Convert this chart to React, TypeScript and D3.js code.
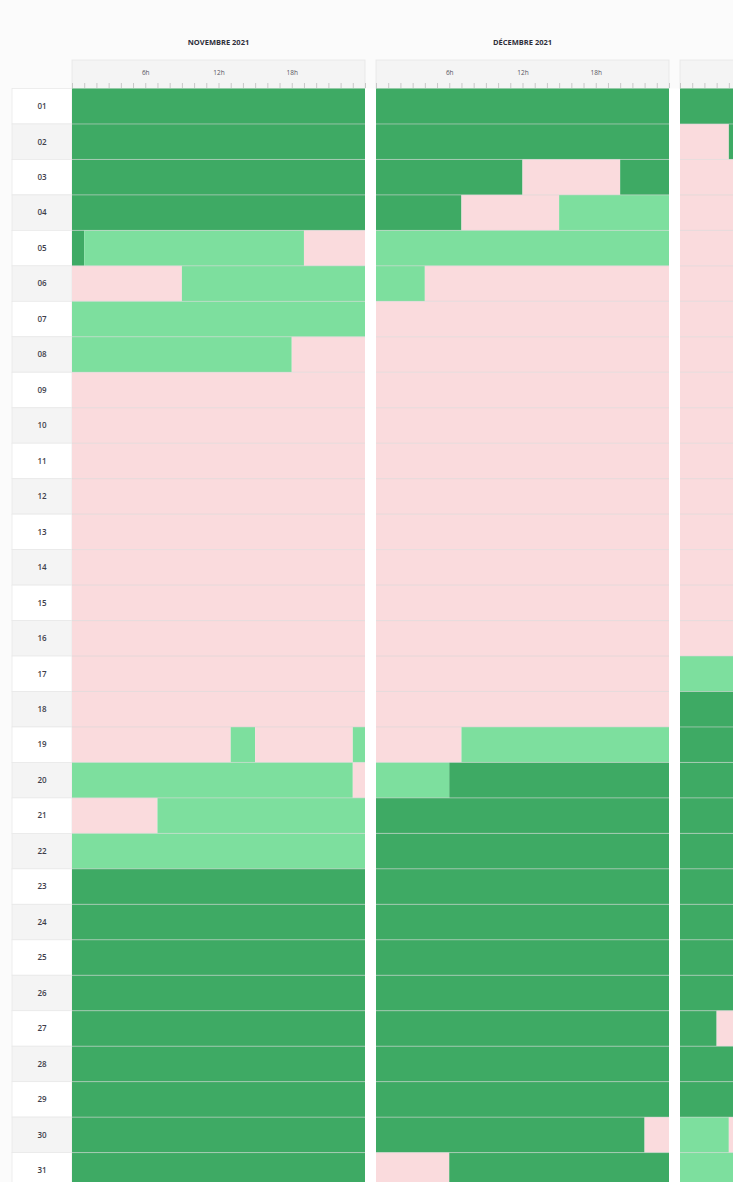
import React, { useEffect, useRef } from "react";
import * as d3 from "d3";

type Segment = [number, number, string];

const MOIS = ["NOVEMBRE 2021", "DÉCEMBRE 2021", "JANVIER 2022"];
const JOURS = [
  "01", "02", "03", "04", "05", "06", "07", "08", "09", "10",
  "11", "12", "13", "14", "15", "16", "17", "18", "19", "20",
  "21", "22", "23", "24", "25", "26", "27", "28", "29", "30", "31",
];
const HEURES_LABELS = [6, 12, 18];
// F = fort (vert foncé), M = moyen (vert clair), B = bas (rose)
const COULEURS: Record<string, string> = { F: "#3eaa64", M: "#7ddf9e", B: "#fadbdd" };

const NOVEMBRE: Segment[][] = [
  [[0, 24, "F"]],
  [[0, 24, "F"]],
  [[0, 24, "F"]],
  [[0, 24, "F"]],
  [[0, 1, "F"], [1, 19, "M"], [19, 24, "B"]],
  [[0, 9, "B"], [9, 24, "M"]],
  [[0, 24, "M"]],
  [[0, 18, "M"], [18, 24, "B"]],
  [[0, 24, "B"]],
  [[0, 24, "B"]],
  [[0, 24, "B"]],
  [[0, 24, "B"]],
  [[0, 24, "B"]],
  [[0, 24, "B"]],
  [[0, 24, "B"]],
  [[0, 24, "B"]],
  [[0, 24, "B"]],
  [[0, 24, "B"]],
  [[0, 13, "B"], [13, 15, "M"], [15, 23, "B"], [23, 24, "M"]],
  [[0, 23, "M"], [23, 24, "B"]],
  [[0, 7, "B"], [7, 24, "M"]],
  [[0, 24, "M"]],
  [[0, 24, "F"]],
  [[0, 24, "F"]],
  [[0, 24, "F"]],
  [[0, 24, "F"]],
  [[0, 24, "F"]],
  [[0, 24, "F"]],
  [[0, 24, "F"]],
  [[0, 24, "F"]],
  [[0, 24, "F"]],
];

const DECEMBRE: Segment[][] = [
  [[0, 24, "F"]],
  [[0, 24, "F"]],
  [[0, 12, "F"], [12, 20, "B"], [20, 24, "F"]],
  [[0, 7, "F"], [7, 15, "B"], [15, 24, "M"]],
  [[0, 24, "M"]],
  [[0, 4, "M"], [4, 24, "B"]],
  [[0, 24, "B"]],
  [[0, 24, "B"]],
  [[0, 24, "B"]],
  [[0, 24, "B"]],
  [[0, 24, "B"]],
  [[0, 24, "B"]],
  [[0, 24, "B"]],
  [[0, 24, "B"]],
  [[0, 24, "B"]],
  [[0, 24, "B"]],
  [[0, 24, "B"]],
  [[0, 24, "B"]],
  [[0, 7, "B"], [7, 24, "M"]],
  [[0, 6, "M"], [6, 24, "F"]],
  [[0, 24, "F"]],
  [[0, 24, "F"]],
  [[0, 24, "F"]],
  [[0, 24, "F"]],
  [[0, 24, "F"]],
  [[0, 24, "F"]],
  [[0, 24, "F"]],
  [[0, 24, "F"]],
  [[0, 24, "F"]],
  [[0, 22, "F"], [22, 24, "B"]],
  [[0, 6, "B"], [6, 24, "F"]],
];

const JANVIER: Segment[][] = [
  [[0, 24, "F"]],
  [[0, 4, "B"], [4, 24, "F"]],
  [[0, 24, "B"]],
  [[0, 24, "B"]],
  [[0, 24, "B"]],
  [[0, 24, "B"]],
  [[0, 24, "B"]],
  [[0, 24, "B"]],
  [[0, 24, "B"]],
  [[0, 24, "B"]],
  [[0, 24, "B"]],
  [[0, 24, "B"]],
  [[0, 24, "B"]],
  [[0, 24, "B"]],
  [[0, 24, "B"]],
  [[0, 24, "B"]],
  [[0, 24, "M"]],
  [[0, 24, "F"]],
  [[0, 24, "F"]],
  [[0, 24, "F"]],
  [[0, 24, "F"]],
  [[0, 24, "F"]],
  [[0, 24, "F"]],
  [[0, 24, "F"]],
  [[0, 24, "F"]],
  [[0, 24, "F"]],
  [[0, 3, "F"], [3, 24, "B"]],
  [[0, 24, "F"]],
  [[0, 24, "F"]],
  [[0, 4, "M"], [4, 24, "B"]],
  [[0, 24, "M"]],
];

const DONNEES = [NOVEMBRE, DECEMBRE, JANVIER];

const WIDTH = 733;
const HEIGHT = 1182;
const LABEL_X = 12;
const GRID_LEFT = 72;
const PANEL_STEP = 304;
const PANEL_GAP = 11;
const HEADER_TOP = 60;
const GRID_TOP = 88.5;
const ROW_H = 35.47;
const FONT = "'Open Sans', 'DejaVu Sans', sans-serif";

const App: React.FC = () => {
  const chartRef = useRef<SVGGElement | null>(null);

  useEffect(() => {
    const g = d3.select(chartRef.current);
    g.selectAll("*").remove();

    const xMois = d3
      .scaleBand<string>()
      .domain(MOIS)
      .range([GRID_LEFT, GRID_LEFT + MOIS.length * PANEL_STEP - PANEL_GAP])
      .paddingInner(PANEL_GAP / PANEL_STEP)
      .paddingOuter(0);
    const yJour = d3
      .scaleBand<string>()
      .domain(JOURS)
      .range([GRID_TOP, GRID_TOP + JOURS.length * ROW_H]);
    const xHeure = d3.scaleLinear().domain([0, 24]).range([0, xMois.bandwidth()]);

    // fond
    g.append("rect")
      .attr("width", WIDTH)
      .attr("height", HEIGHT)
      .attr("fill", "#fbfbfb");
    g.append("rect")
      .attr("x", GRID_LEFT)
      .attr("y", GRID_TOP)
      .attr("width", WIDTH - GRID_LEFT)
      .attr("height", HEIGHT - GRID_TOP)
      .attr("fill", "#ffffff");

    // colonne des jours
    const lignes = g.append("g");
    JOURS.forEach((j, i) => {
      lignes
        .append("rect")
        .attr("x", LABEL_X)
        .attr("y", yJour(j)!)
        .attr("width", GRID_LEFT - LABEL_X)
        .attr("height", yJour.bandwidth())
        .attr("fill", i % 2 === 0 ? "#ffffff" : "#f4f4f4")
        .attr("stroke", "#e9e9e9")
        .attr("stroke-width", 0.8);
      lignes
        .append("text")
        .attr("x", (LABEL_X + GRID_LEFT) / 2)
        .attr("y", yJour(j)! + yJour.bandwidth() / 2)
        .attr("dy", "0.35em")
        .attr("text-anchor", "middle")
        .attr("font-size", 8)
        .attr("font-weight", 600)
        .attr("font-family", FONT)
        .attr("fill", "#3e3e4a")
        .text(j);
    });

    MOIS.forEach((m, mi) => {
      const x0 = xMois(m)!;
      const panel = g.append("g").attr("transform", `translate(${x0},0)`);

      // only texts that fall inside the visible page
      if (x0 + xMois.bandwidth() / 2 < WIDTH) {
        panel
          .append("text")
          .attr("x", xMois.bandwidth() / 2)
          .attr("y", 45)
          .attr("text-anchor", "middle")
          .attr("font-size", 7.5)
          .attr("font-weight", 700)
          .attr("font-family", FONT)
          .attr("fill", "#2e2e3a")
          .text(m);
      }

      panel
        .append("rect")
        .attr("x", 0)
        .attr("y", HEADER_TOP)
        .attr("width", xMois.bandwidth())
        .attr("height", GRID_TOP - HEADER_TOP)
        .attr("fill", "#f4f4f4")
        .attr("stroke", "#e6e6e6")
        .attr("stroke-width", 0.8);

      const axis = d3
        .axisTop(xHeure)
        .tickValues(d3.range(0, 25))
        .tickSize(5)
        .tickPadding(8)
        .tickFormat((d: any) =>
          HEURES_LABELS.includes(d) && x0 + xHeure(d) + 8 < WIDTH ? `${d}h` : ""
        );
      const axe = panel
        .append("g")
        .attr("transform", `translate(0,${GRID_TOP - 0.5})`)
        .call(axis as any);
      axe.select(".domain").remove();
      axe.selectAll("line").attr("stroke", "#c8c8c8");
      axe
        .selectAll("text")
        .attr("font-size", 6.5)
        .attr("font-family", FONT)
        .attr("fill", "#55555f");

      const jours = DONNEES[mi];
      jours.forEach((segs, i) => {
        const y = yJour(JOURS[i])!;
        panel
          .selectAll(null)
          .data(segs)
          .enter()
          .append("rect")
          .attr("x", (d) => xHeure(d[0]))
          .attr("y", y)
          .attr("width", (d) => xHeure(d[1]) - xHeure(d[0]))
          .attr("height", yJour.bandwidth())
          .attr("fill", (d) => COULEURS[d[2]]);
      });

      // séparateurs de lignes
      panel
        .selectAll(null)
        .data(JOURS.slice(1))
        .enter()
        .append("line")
        .attr("x1", 0)
        .attr("x2", xMois.bandwidth())
        .attr("y1", (j) => yJour(j)!)
        .attr("y2", (j) => yJour(j)!)
        .attr("stroke", "#d6d6d6")
        .attr("stroke-opacity", 0.55)
        .attr("stroke-width", 1);
    });
  }, []);

  return (
    <svg
      width={WIDTH}
      height={HEIGHT}
      style={{ display: "block", position: "absolute", left: 0, top: 0 }}
    >
      <g ref={chartRef} />
    </svg>
  );
};

export default App;
